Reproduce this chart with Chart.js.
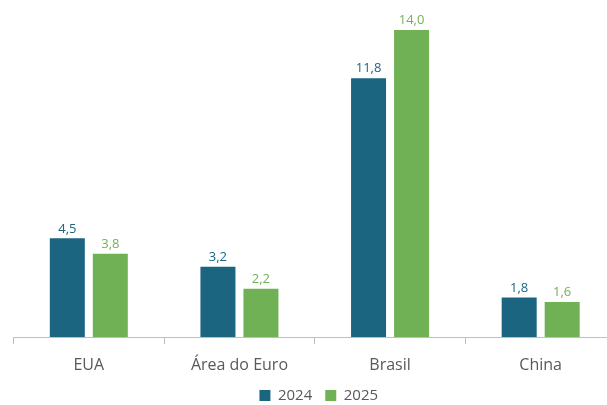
<!DOCTYPE html>
<html>
<head>
<meta charset="utf-8">
<script src="https://cdn.jsdelivr.net/npm/chart.js@4"></script>
<style>
  html, body { margin: 0; padding: 0; background: #fff; overflow: hidden; }
  #wrap { width: 624px; height: 405px; }
</style>
</head>
<body>
<div id="wrap"><canvas id="growth-chart"></canvas></div>
<script>
const regions = ["EUA", "Área do Euro", "Brasil", "China"];
const values2024 = [4.5, 3.2, 11.8, 1.8];
const values2025 = [3.8, 2.2, 14.0, 1.6];
const seriesLabels = ["2024", "2025"];

const blue = "#1B6580";
const green = "#70B155";

// draws the value above each bar, comma as decimal separator
const barValueLabels = {
    id: "barValueLabels",
    afterDatasetsDraw(chart) {
        const ctx = chart.ctx;
        ctx.save();
        ctx.font = "13px 'Open Sans'";
        ctx.textAlign = "center";
        ctx.textBaseline = "bottom";
        chart.data.datasets.forEach((dataset, i) => {
            const meta = chart.getDatasetMeta(i);
            ctx.fillStyle = dataset.backgroundColor;
            meta.data.forEach((bar, j) => {
                const text = dataset.data[j].toFixed(1).replace(".", ",");
                ctx.fillText(text, bar.x, bar.y - 3);
            });
        });
        ctx.restore();
    }
};

new Chart("growth-chart", {
    type: "bar",
    data: {
        labels: regions,
        datasets: [
            { label: seriesLabels[0], data: values2024, backgroundColor: blue },
            { label: seriesLabels[1], data: values2025, backgroundColor: green }
        ]
    },
    options: {
        responsive: true,
        maintainAspectRatio: false,
        animation: false,
        layout: { padding: { top: 30, left: 13.5, right: 0, bottom: 0 } },
        datasets: {
            bar: { categoryPercentage: 0.571, barPercentage: 0.814 }
        },
        plugins: {
            legend: {
                position: "bottom",
                maxHeight: 30,
                labels: {
                    boxWidth: 11,
                    boxHeight: 11,
                    padding: 13,
                    color: "#595959",
                    font: { size: 15, family: "'Open Sans'" }
                }
            },
            tooltip: { enabled: false }
        },
        scales: {
            x: {
                border: { color: "#BFBFBF", width: 1 },
                grid: { offset: true, drawOnChartArea: false, tickLength: 7, color: "#BFBFBF" },
                ticks: { color: "#595959", padding: 12, font: { size: 16, family: "'Open Sans'" } },
                afterFit(scale) {
                    scale.height = 38;
                }
            },
            // hidden value axis, kept only as a narrow spacer on the right
            y: {
                position: "right",
                min: 0,
                max: 14,
                border: { display: false },
                grid: { display: false },
                ticks: { display: false },
                afterFit(scale) {
                    scale.width = 8;
                }
            }
        }
    },
    plugins: [barValueLabels]
});
</script>
</body>
</html>
